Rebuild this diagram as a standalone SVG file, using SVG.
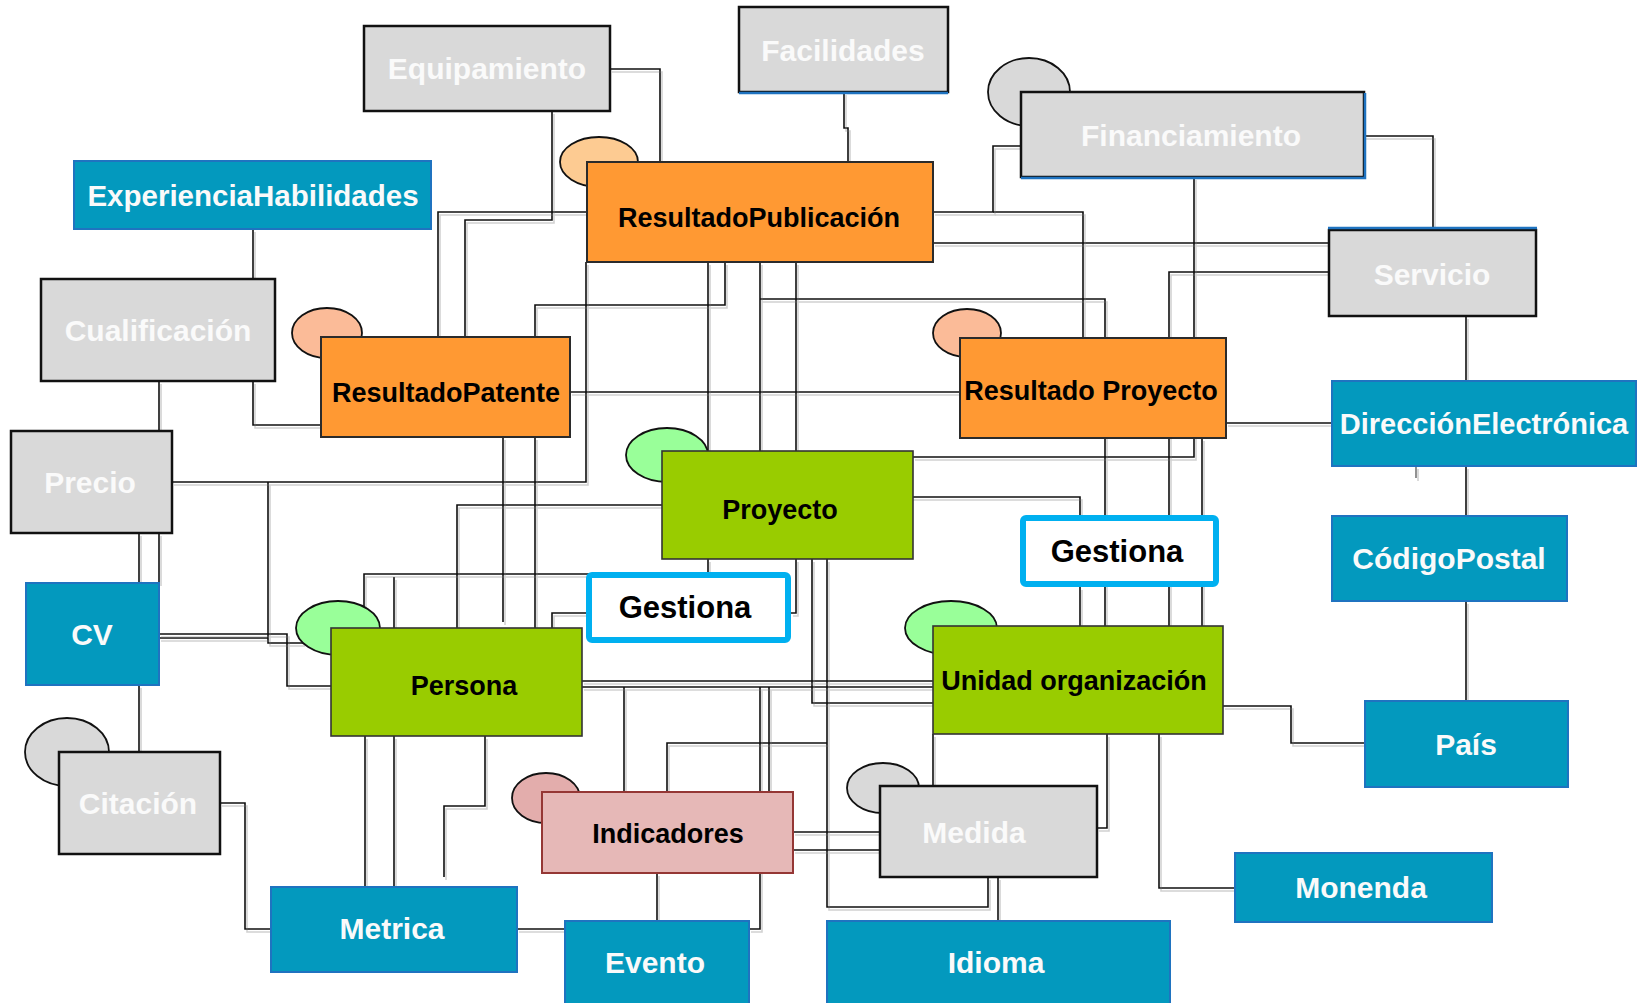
<svg xmlns="http://www.w3.org/2000/svg" width="1652" height="1003" viewBox="0 0 1652 1003">
<defs>
<style>
.conn path{fill:none;stroke:#111;stroke-width:1.6}
.gray rect{fill:#d9d9d9;stroke:#111;stroke-width:2.5}
.blue rect{fill:#0399be;stroke:#1f73c0;stroke-width:2}
.orange rect{fill:#ff9933;stroke:#2b2b2b;stroke-width:2}
.green rect{fill:#99cc00;stroke:#333;stroke-width:1.6}
.pink rect{fill:#e6b8b7;stroke:#953735;stroke-width:2}
.rel rect{fill:#fff;stroke:#00b0f0;stroke-width:6}
ellipse{stroke:#111;stroke-width:1.8}
text{font-family:"Liberation Sans",Arial,sans-serif;font-weight:bold;text-anchor:middle}
.wt{fill:#fafafa;font-size:30px}
.bt{fill:#000;font-size:27px}
.gt{fill:#000;font-size:31px}
.edge{stroke:#1f73c0;stroke-width:2.5;fill:none}
</style>
<filter id="sh" x="-5%" y="-5%" width="110%" height="110%">
<feDropShadow dx="2" dy="3" stdDeviation="0.6" flood-color="#999" flood-opacity="0.45"/>
</filter>
</defs>
<rect width="1652" height="1003" fill="#fff"/>

<g id="connectors" class="conn" filter="url(#sh)">
<path d="M253,229 V279"/>
<path d="M253,381 V425 H321"/>
<path d="M159,381 V431"/>
<path d="M139,533 V583"/>
<path d="M159,533 V583"/>
<path d="M139,685 V752"/>
<path d="M220,803 H245 V929 H271"/>
<path d="M517,929 H565"/>
<path d="M365,736 V887"/>
<path d="M394,736 V887"/>
<path d="M485,736 V806 H444 V877"/>
<path d="M159,634 H287 V686 H331"/>
<path d="M159,638 H268"/>
<path d="M172,482 H586 V262"/>
<path d="M268,482 V643 H303"/>
<path d="M610,69 H660 V162"/>
<path d="M552,111 V220 H465 V337"/>
<path d="M587,212 H438 V337"/>
<path d="M725,262 V305 H535 V337"/>
<path d="M535,437 V628"/>
<path d="M503,437 V622"/>
<path d="M844,92 V128 H848 V162"/>
<path d="M933,212 H993 V146 H1021"/>
<path d="M993,212 H1083 V338"/>
<path d="M933,243 H1329"/>
<path d="M1364,136 H1433 V230"/>
<path d="M1194,177 V457 H913"/>
<path d="M1329,272 H1169 V626"/>
<path d="M760,262 V451"/>
<path d="M760,299 H1105 V626"/>
<path d="M708,262 V451"/>
<path d="M796,262 V451"/>
<path d="M570,392 H960"/>
<path d="M1226,423 H1332"/>
<path d="M1202,438 V626"/>
<path d="M1466,316 V381"/>
<path d="M1466,466 V516"/>
<path d="M1466,601 V701"/>
<path d="M1416,466 V478" style="stroke:#777"/>
<path d="M662,505 H457 V628"/>
<path d="M708,559 V574 H364 V628"/>
<path d="M394,577 V628"/>
<path d="M796,559 V613 H791"/>
<path d="M586,613 H552 V628"/>
<path d="M906,497 H1080 V515"/>
<path d="M1080,587 V626"/>
<path d="M812,559 V703 H933"/>
<path d="M827,559 V907 H988 V877"/>
<path d="M667,792 V743 H827"/>
<path d="M582,681 H933"/>
<path d="M582,687 H933"/>
<path d="M624,687 V792"/>
<path d="M769,687 V792"/>
<path d="M760,687 V929 H749"/>
<path d="M657,873 V921"/>
<path d="M793,832 H880"/>
<path d="M793,850 H880"/>
<path d="M933,734 V786"/>
<path d="M998,877 V921"/>
<path d="M1107,734 V828 H1097"/>
<path d="M1159,734 V888 H1235"/>
<path d="M1223,706 H1291 V743 H1365"/>
</g>

<g id="Equipamiento" class="gray"><rect x="364" y="26" width="246" height="85"/><text class="wt" x="487" y="79">Equipamiento</text></g>
<g id="Facilidades" class="gray"><rect x="739" y="7" width="209" height="85"/><path class="edge" d="M739,93 H948"/><text class="wt" x="843" y="61">Facilidades</text></g>
<g id="Financiamiento" class="gray"><ellipse cx="1029" cy="92" rx="41" ry="34" fill="#d9d9d9"/><rect x="1021" y="92" width="343" height="85"/><path class="edge" d="M1021,178 H1365 V93"/><text class="wt" x="1191" y="146">Financiamiento</text></g>
<g id="ExperienciaHabilidades" class="blue"><rect x="74" y="161" width="357" height="68"/><text class="wt" x="253" y="206" style="font-size:29.5px">ExperienciaHabilidades</text></g>
<g id="ResultadoPublicacion" class="orange"><ellipse cx="599" cy="162" rx="39" ry="25" fill="#fdcb92"/><rect x="587" y="162" width="346" height="100"/><text class="bt" x="759" y="227">ResultadoPublicación</text></g>
<g id="Servicio" class="gray"><rect x="1329" y="230" width="207" height="86"/><path class="edge" d="M1328,228 H1537"/><text class="wt" x="1432" y="285">Servicio</text></g>
<g id="Cualificacion" class="gray"><rect x="41" y="279" width="234" height="102"/><text class="wt" x="158" y="341">Cualificación</text></g>
<g id="ResultadoPatente" class="orange"><ellipse cx="327" cy="333" rx="35" ry="25" fill="#fbbb98"/><rect x="321" y="337" width="249" height="100"/><text class="bt" x="446" y="402">ResultadoPatente</text></g>
<g id="ResultadoProyecto" class="orange"><ellipse cx="967" cy="333" rx="34" ry="24" fill="#fbbb98"/><rect x="960" y="338" width="266" height="100"/><text class="bt" x="1091" y="400">Resultado Proyecto</text></g>
<g id="DireccionElectronica" class="blue"><rect x="1332" y="381" width="304" height="85"/><text class="wt" x="1484" y="434" style="font-size:29px">DirecciónElectrónica</text></g>
<g id="Precio" class="gray"><rect x="11" y="431" width="161" height="102"/><text class="wt" x="90" y="493">Precio</text></g>
<g id="Proyecto" class="green"><ellipse cx="667" cy="455" rx="41" ry="27" fill="#99ff99"/><rect x="662" y="451" width="251" height="108"/><text class="bt" x="780" y="519">Proyecto</text></g>
<g id="CodigoPostal" class="blue"><rect x="1332" y="516" width="235" height="85"/><text class="wt" x="1449" y="569">CódigoPostal</text></g>
<g id="GestionaPersona" class="rel"><rect x="589" y="575" width="199" height="65" rx="3"/><text class="gt" x="685" y="618">Gestiona</text></g>
<g id="GestionaUnidad" class="rel"><rect x="1023" y="518" width="193" height="66" rx="3"/><text class="gt" x="1117" y="562">Gestiona</text></g>
<g id="CV" class="blue"><rect x="26" y="583" width="133" height="102"/><text class="wt" x="92" y="645">CV</text></g>
<g id="Persona" class="green"><ellipse cx="338" cy="628" rx="42" ry="27" fill="#99ff99"/><rect x="331" y="628" width="251" height="108"/><text class="bt" x="464" y="695">Persona</text></g>
<g id="UnidadOrganizacion" class="green"><ellipse cx="951" cy="628" rx="46" ry="27" fill="#99ff99"/><rect x="933" y="626" width="290" height="108"/><text class="bt" x="1074" y="690">Unidad organización</text></g>
<g id="Pais" class="blue"><rect x="1365" y="701" width="203" height="86"/><text class="wt" x="1466" y="755">País</text></g>
<g id="Citacion" class="gray"><ellipse cx="67" cy="752" rx="42" ry="34" fill="#d9d9d9"/><rect x="59" y="752" width="161" height="102"/><text class="wt" x="138" y="814">Citación</text></g>
<g id="Indicadores" class="pink"><ellipse cx="546" cy="798" rx="34" ry="25" fill="#e3adac"/><rect x="542" y="792" width="251" height="81"/><text class="bt" x="668" y="843">Indicadores</text></g>
<g id="Medida" class="gray"><ellipse cx="883" cy="788" rx="36" ry="25" fill="#d9d9d9"/><rect x="880" y="786" width="217" height="91"/><text class="wt" x="974" y="843">Medida</text></g>
<g id="Monenda" class="blue"><rect x="1235" y="853" width="257" height="69"/><text class="wt" x="1361" y="898">Monenda</text></g>
<g id="Metrica" class="blue"><rect x="271" y="887" width="246" height="85"/><text class="wt" x="392" y="939">Metrica</text></g>
<g id="Evento" class="blue"><rect x="565" y="921" width="184" height="90"/><text class="wt" x="655" y="973">Evento</text></g>
<g id="Idioma" class="blue"><rect x="827" y="921" width="343" height="90"/><text class="wt" x="996" y="973">Idioma</text></g>
</svg>
